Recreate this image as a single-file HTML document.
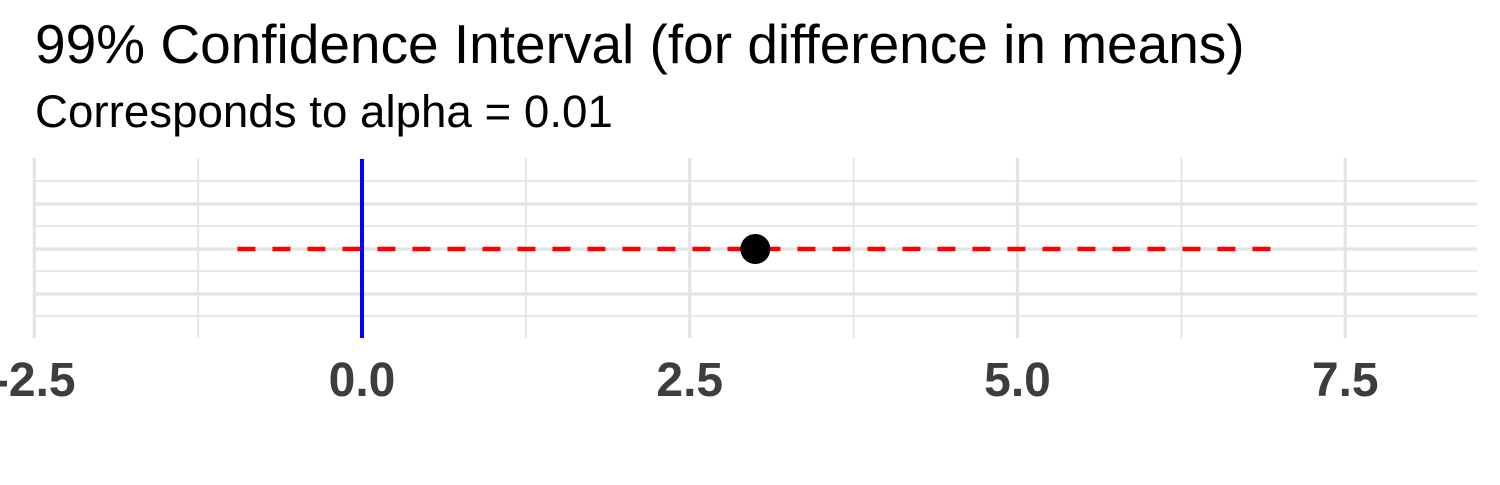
<!DOCTYPE html>
<html><head><meta charset="utf-8"><style>
body{margin:0;background:#fff;width:1500px;height:480px;overflow:hidden;font-family:"Liberation Sans",sans-serif}
</style></head><body>
<svg width="1500" height="480" id="chart">
<text x="35" y="63" font-size="55" fill="#000">99% Confidence Interval (for difference in means)</text>
<text x="35" y="127" font-size="45.7" fill="#000">Corresponds to alpha = 0.01</text>
<g id="grid"></g><g id="marks"></g><g id="axis"></g>
</svg>
<script>
const xTicks=[-2.5,0,2.5,5,7.5];
const xTickLabels=["-2.5","0.0","2.5","5.0","7.5"];
const estimate=[3.0];
const ciLower=[-0.95];
const ciUpper=[6.94];
const refLine=[0];
const NS="http://www.w3.org/2000/svg";
const xs=v=>362+(v)*131.1;
const pTop=158,pBot=338,pLeft=35,pRight=1477;
function mk(tag,attrs,parent){const e=document.createElementNS(NS,tag);for(const k in attrs)e.setAttribute(k,attrs[k]);document.getElementById(parent).appendChild(e);return e;}
const hy=[181,204,226,249,271,294,316];
hy.forEach((y,i)=>{const l=mk('line',{x1:pLeft,x2:pRight,y1:y,y2:y,stroke:'#e4e4e4','stroke-width':i%2?3.2:1.8},'grid');

});
for(let v=-2.5;v<=8.5;v+=1.25){const px=xs(v);if(px<pLeft-1||px>pRight)continue;const major=Math.abs(v/2.5-Math.round(v/2.5))<1e-6;
const l=mk('line',{x1:px,x2:px,y1:pTop,y2:pBot,stroke:'#e4e4e4','stroke-width':major?3.2:1.8},'grid');

}
xTicks.forEach((v,i)=>{const t=mk('text',{x:xs(v),y:396,'font-size':48,'font-weight':'bold',fill:'#3d3d3d','text-anchor':'middle'},'axis');t.textContent=xTickLabels[i];

});
const cy=249;
const ci=mk('line',{x1:xs(ciLower[0]),x2:xs(ciUpper[0]),y1:cy,y2:cy,stroke:'#ff0000','stroke-width':4.5,'stroke-dasharray':'18 17'},'marks');


const rl=mk('line',{x1:xs(refLine[0]),x2:xs(refLine[0]),y1:159,y2:338,stroke:'#0000ff','stroke-width':4},'marks');


const pt=mk('circle',{cx:xs(estimate[0]),cy:cy,r:15,fill:'#000'},'marks');


</script>
</body></html>
